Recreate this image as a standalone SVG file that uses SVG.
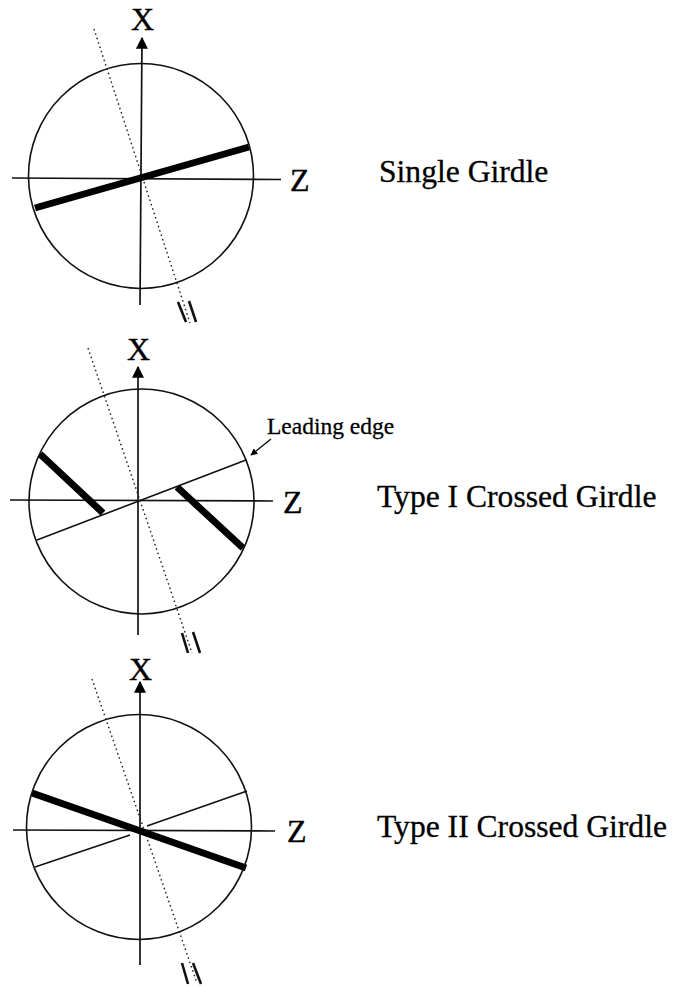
<svg xmlns="http://www.w3.org/2000/svg" width="675" height="987" viewBox="0 0 675 987">
<defs>
<style>
.c{fill:none;stroke:#111;stroke-width:1.6}
.a{fill:none;stroke:#111;stroke-width:1.7}
.t{fill:none;stroke:#111;stroke-width:1.6}
.k{fill:none;stroke:#000;stroke-width:7}
.m{fill:none;stroke:#111;stroke-width:2.6}
.d{fill:none;stroke:#222;stroke-width:1.4;stroke-dasharray:1.6 3}
.l{fill:none;stroke:#111;stroke-width:1.5}
.ax{font-family:"Liberation Serif",serif;font-size:32px;fill:#000;stroke:#000;stroke-width:.4}
.lb{font-family:"Liberation Serif",serif;font-size:31.6px;fill:#000;stroke:#000;stroke-width:.3}
.sm{font-family:"Liberation Serif",serif;font-size:23.500px;fill:#000;stroke:#000;stroke-width:.3}
</style>
<marker id="tip" viewBox="0 0 10 10" refX="9" refY="5" markerWidth="12" markerHeight="12" markerUnits="userSpaceOnUse" orient="auto"><path d="M0 0L10 5L0 10Z" fill="#000"/></marker>
<marker id="tipS" viewBox="0 0 10 10" refX="9" refY="5" markerWidth="7" markerHeight="7" markerUnits="userSpaceOnUse" orient="auto"><path d="M0 0L10 5L0 10Z" fill="#000"/></marker>
</defs>
<rect width="675" height="987" fill="#fff"/>
<g id="connectors">
<path class="a" d="M140 305L142 38" marker-end="url(#tip)"/>
<path class="a" d="M12 178L281 179.500"/>
<path class="k" d="M35 208L249 147"/>
<path class="d" d="M94 29L190 323"/>
<path class="m" d="M178 302L186 322M189 301L196 322"/>

<path class="a" d="M138 635L138 367" marker-end="url(#tip)"/>
<path class="a" d="M10 500L273 501"/>
<path class="t" d="M37 540L246 460"/>
<path class="k" d="M40 454L103 513M177 487L243 548"/>
<path class="d" d="M88 348L192 653"/>
<path class="m" d="M182 633L188 653M193 632L200 653"/>
<path class="l" d="M271 439L251 455" marker-end="url(#tipS)"/>

<path class="a" d="M140 965L140 682" marker-end="url(#tip)"/>
<path class="a" d="M13 830L275 831"/>
<path class="t" d="M35 867L130 835M147 826L247 791"/>
<path class="k" d="M32 793L246 868"/>
<path class="d" d="M92 679L197 983"/>
<path class="m" d="M182 963L188 984M193 963L201 984"/>
</g>
<g id="single-girdle">
<circle class="c" cx="141" cy="176" r="112.500"/>
<text class="ax" x="131" y="30">X</text>
<text class="ax" x="290" y="191">Z</text>
<text class="lb" x="379" y="182">Single Girdle</text>
</g>
<g id="type-1-crossed-girdle">
<circle class="c" cx="141.500" cy="501.500" r="112.500"/>
<text class="ax" x="127" y="360">X</text>
<text class="ax" x="283" y="513">Z</text>
<text class="sm" x="267" y="434">Leading edge</text>
<text class="lb" x="377" y="507">Type I Crossed Girdle</text>
</g>
<g id="type-2-crossed-girdle">
<circle class="c" cx="139" cy="827" r="112.500"/>
<text class="ax" x="129" y="680">X</text>
<text class="ax" x="287" y="842">Z</text>
<text class="lb" x="377" y="837">Type II Crossed Girdle</text>
</g>
</svg>
